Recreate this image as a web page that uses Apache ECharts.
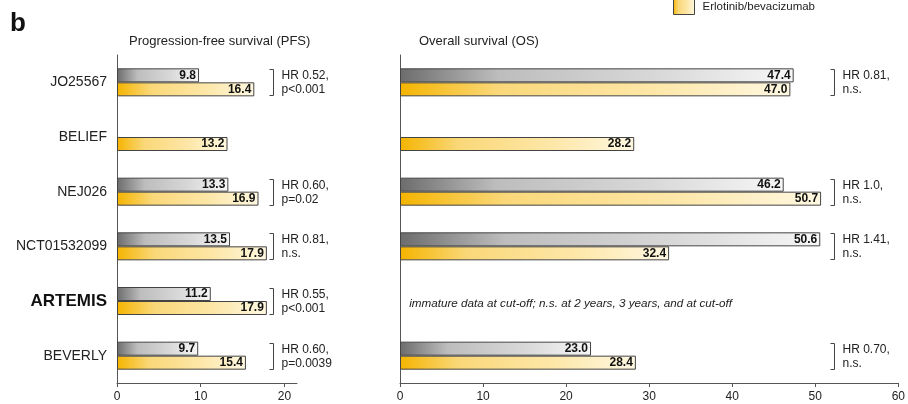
<!DOCTYPE html>
<html>
<head>
<meta charset="utf-8">
<script src="https://cdn.jsdelivr.net/npm/echarts@6/dist/echarts.min.js"></script>
<style>
  html, body { margin: 0; padding: 0; background: #fff; }
  #chart { width: 908px; height: 404px; }
</style>
</head>
<body>
<div id="chart"></div>
<script>
// Trials, one row each
const categories = ['JO25567', 'BELIEF', 'NEJ026', 'NCT01532099', 'ARTEMIS', 'BEVERLY'];

// Median progression-free survival (months)
const pfsErlotinib = [9.8, null, 13.3, 13.5, 11.2, 9.7];
const pfsCombo = [16.4, 13.2, 16.9, 17.9, 17.9, 15.4];

// Median overall survival (months)
const osErlotinib = [47.4, null, 46.2, 50.6, null, 23.0];
const osCombo = [47.0, 28.2, 50.7, 32.4, null, 28.4];

// Hazard ratio notes per row
const pfsHR = ['HR 0.52,\np<0.001', '', 'HR 0.60,\np=0.02', 'HR 0.81,\nn.s.', 'HR 0.55,\np<0.001', 'HR 0.60,\np=0.0039'];
const osHR = ['HR 0.81,\nn.s.', '', 'HR 1.0,\nn.s.', 'HR 1.41,\nn.s.', '', 'HR 0.70,\nn.s.'];
const osNote = 'immature data at cut-off; n.s. at 2 years, 3 years, and at cut-off';
const osNoteRow = 'ARTEMIS';

// Tick labels
const pfsTicks = [0, 10, 20];
const osTicks = [0, 10, 20, 30, 40, 50, 60];

const FONT = '"Liberation Sans", Arial, Helvetica, sans-serif';

const greyFill = new echarts.graphic.LinearGradient(0, 0, 1, 0, [
  { offset: 0, color: '#6c6c6c' },
  { offset: 0.25, color: '#bdbdbd' },
  { offset: 0.65, color: '#d8d8d8' },
  { offset: 1, color: '#f7f7f7' }
]);
const yellowFill = new echarts.graphic.LinearGradient(0, 0, 1, 0, [
  { offset: 0, color: '#f5b400' },
  { offset: 0.25, color: '#fad879' },
  { offset: 0.65, color: '#fde7a8' },
  { offset: 1, color: '#fff8e2' }
]);

const barLabel = {
  show: true,
  position: 'insideRight',
  distance: 3,
  fontWeight: 'bold',
  fontSize: 12,
  fontFamily: FONT,
  color: '#111',
  formatter: p => Number(p.value).toFixed(1)
};

function barSeries(name, data, fill, axis) {
  return {
    type: 'bar',
    name: name,
    data: data,
    xAxisIndex: axis,
    yAxisIndex: axis,
    barWidth: 14,
    barGap: '0%',
    itemStyle: { color: fill, borderColor: '#444', borderWidth: 1 },
    label: barLabel,
    emphasis: { disabled: true },
    animation: false
  };
}

// Bracket "]" with the hazard-ratio text beside it
function hrSeries(labels, bracketAt, axis) {
  return {
    type: 'custom',
    xAxisIndex: axis,
    yAxisIndex: axis,
    data: categories.map((c, i) => [bracketAt, i]),
    encode: { x: 0, y: 1 },
    silent: true,
    animation: false,
    renderItem: function (params, api) {
      const text = labels[params.dataIndex];
      if (!text) return null;
      const c = api.coord([api.value(0), api.value(1)]);
      const x = Math.round(c[0]) + 0.5;
      const y = Math.round(c[1]);
      const h = 13;
      return {
        type: 'group',
        children: [
          {
            type: 'polyline',
            shape: { points: [[x - 4, y - h + 0.5], [x, y - h + 0.5], [x, y + h + 0.5], [x - 4, y + h + 0.5]] },
            style: { stroke: '#444', fill: null, lineWidth: 1 }
          },
          {
            type: 'text',
            style: {
              x: x + 8, y: y + 1,
              text: text,
              font: '12px ' + FONT,
              fill: '#222',
              lineHeight: 14,
              verticalAlign: 'middle',
              align: 'left'
            }
          }
        ]
      };
    }
  };
}

function noteSeries() {
  return {
    type: 'custom',
    xAxisIndex: 1,
    yAxisIndex: 1,
    data: [[1.1, categories.indexOf(osNoteRow)]],
    encode: { x: 0, y: 1 },
    silent: true,
    animation: false,
    renderItem: function (params, api) {
      const c = api.coord([api.value(0), api.value(1)]);
      return {
        type: 'text',
        style: {
          x: c[0], y: c[1] + 3,
          text: osNote,
          font: 'italic 11.7px ' + FONT,
          fill: '#222',
          verticalAlign: 'middle',
          align: 'left'
        }
      };
    }
  };
}

function xAxis(grid, max, ticks) {
  return {
    type: 'value',
    gridIndex: grid,
    min: 0,
    max: max,
    interval: 10,
    splitLine: { show: false },
    axisLine: { show: true, lineStyle: { color: '#555', width: 1 } },
    axisTick: { show: true, length: 4, lineStyle: { color: '#555' }, customValues: ticks },
    axisLabel: { fontSize: 12, color: '#222', fontFamily: FONT, margin: 8, customValues: ticks }
  };
}

function yAxis(grid, showLabels) {
  return {
    type: 'category',
    gridIndex: grid,
    data: categories,
    inverse: true,
    axisLine: { show: true, lineStyle: { color: '#555', width: 1 } },
    axisTick: { show: false },
    axisLabel: {
      show: showLabels,
      fontSize: 14,
      color: '#222',
      fontFamily: FONT,
      margin: 10,
      formatter: v => v === 'ARTEMIS' ? '{b|' + v + '}' : v,
      rich: { b: { fontSize: 17, fontWeight: 'bold', color: '#111', fontFamily: FONT } }
    }
  };
}

const chart = echarts.init(document.getElementById('chart'), null, { renderer: 'canvas' });
chart.setOption({
  animation: false,
  backgroundColor: '#fff',
  textStyle: { fontFamily: FONT },
  title: [
    { text: 'Progression-free survival (PFS)', left: 129, top: 35, padding: 0,
      textStyle: { fontSize: 13, fontWeight: 'normal', color: '#222', fontFamily: FONT } },
    { text: 'Overall survival (OS)', left: 419, top: 35, padding: 0,
      textStyle: { fontSize: 13, fontWeight: 'normal', color: '#222', fontFamily: FONT } }
  ],
  graphic: [
    { type: 'text', left: 10, top: 11,
      style: { text: 'b', font: 'bold 26px ' + FONT, fill: '#111' } }
  ],
  legend: {
    data: ['Erlotinib/bevacizumab'],
    left: 673,
    top: -1,
    padding: 0,
    icon: 'rect',
    itemWidth: 21,
    itemHeight: 15,
    selectedMode: false,
    itemStyle: { borderColor: '#444', borderWidth: 1 },
    textStyle: { fontSize: 11.5, color: '#222', fontFamily: FONT, padding: [2, 0, 0, 3] }
  },
  grid: [
    { left: 117, top: 55, width: 180, height: 328 },
    { left: 400, top: 55, width: 501, height: 328 }
  ],
  xAxis: [xAxis(0, 21.5, pfsTicks), xAxis(1, 60, osTicks)],
  yAxis: [yAxis(0, true), yAxis(1, false)],
  series: [
    barSeries('Erlotinib', pfsErlotinib, greyFill, 0),
    barSeries('Erlotinib/bevacizumab', pfsCombo, yellowFill, 0),
    barSeries('Erlotinib', osErlotinib, greyFill, 1),
    barSeries('Erlotinib/bevacizumab', osCombo, yellowFill, 1),
    hrSeries(pfsHR, 18.6, 0),
    hrSeries(osHR, 52.3, 1),
    noteSeries()
  ]
});
</script>
</body>
</html>
